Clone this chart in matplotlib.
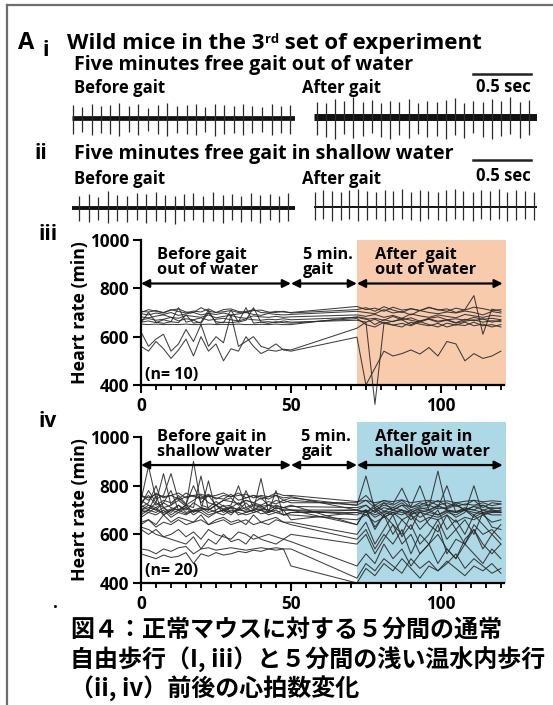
import matplotlib
matplotlib.use("Agg")
import matplotlib.pyplot as plt
from matplotlib.ticker import MultipleLocator

plt.rcParams['font.family'] = ['Open Sans', 'DejaVu Sans']

W, H = 553, 705

# ---------------- example ECG traces (spike times in s, R / S amplitude a.u.) ----------------
ecg_i_before_t = [0.01, 0.084, 0.170, 0.248, 0.328, 0.408, 0.491, 0.572, 0.658, 0.739, 0.822, 0.903,
                  0.989, 1.067, 1.147, 1.227, 1.310, 1.391, 1.471, 1.554, 1.635, 1.722, 1.80, 1.88]
ecg_i_before_up = [13, 11, 14, 12, 13, 15, 12, 14, 10, 13, 15, 12, 13, 14, 11, 14, 13, 12, 14, 12, 11, 14, 12, 13]
ecg_i_before_dn = [16, 14, 17, 15, 16, 18, 14, 17, 13, 16, 18, 15, 16, 17, 14, 18, 16, 15, 17, 15, 14, 17, 15, 16]

ecg_i_after_t = [0.03, 0.103, 0.181, 0.261, 0.339, 0.420, 0.497, 0.575, 0.655, 0.736, 0.819, 0.899,
                 0.977, 1.058, 1.135, 1.216, 1.293, 1.373, 1.454, 1.531, 1.610, 1.690, 1.770, 1.85]
ecg_i_after_up = [15, 14, 18, 16, 20, 15, 17, 14, 16, 15, 18, 14, 16, 15, 17, 19, 14, 16, 15, 18, 16, 20, 15, 17]
ecg_i_after_dn = [18, 20, 22, 17, 21, 19, 16, 20, 22, 18, 21, 17, 20, 19, 22, 18, 21, 16, 20, 22, 19, 17, 21, 18]

ecg_ii_before_t = [0.063, 0.149, 0.227, 0.308, 0.391, 0.472, 0.558, 0.638, 0.724, 0.802, 0.888, 0.966,
                   1.046, 1.132, 1.213, 1.296, 1.377, 1.457, 1.540, 1.621, 1.701, 1.784, 1.862]
ecg_ii_before_up = [12, 14, 11, 17, 13, 12, 15, 14, 16, 13, 12, 14, 15, 12, 16, 13, 14, 12, 15, 13, 14, 12, 15]
ecg_ii_before_dn = [13, 14, 12, 15, 13, 14, 12, 15, 13, 14, 16, 13, 12, 14, 13, 15, 12, 14, 13, 15, 12, 14, 13]

ecg_ii_after_t = [0.009, 0.080, 0.152, 0.230, 0.305, 0.382, 0.460, 0.535, 0.612, 0.684, 0.761, 0.836, 0.914,
                  0.985, 1.066, 1.138, 1.216, 1.287, 1.368, 1.440, 1.517, 1.589, 1.666, 1.741, 1.819, 1.897]
ecg_ii_after_up = [15, 17, 16, 15, 17, 18, 16, 15, 17, 16, 18, 15, 17, 16, 15, 17, 18, 16, 15, 17, 16, 18, 15, 17, 16, 15]
ecg_ii_after_dn = [13, 12, 14, 13, 12, 14, 13, 12, 14, 13, 12, 13, 14, 12, 13, 14, 12, 13, 14, 12, 13, 12, 14, 13, 12, 13]

trace_len = 1.92     # s
scale_bar = 0.5      # s

# ---------------- heart rate (beats/min) ----------------
t_before = [0, 2.5, 5, 7.5, 10, 12.5, 15, 17.5, 20, 22.5, 25, 27.5, 30, 32.5, 35, 37.5, 40, 42.5, 45, 47.5, 50]
t_after = [72, 75, 78, 81, 84, 87, 90, 93, 96, 99, 102, 105, 108, 111, 114, 117, 120]

# iii: out of water (n = 10)
hr3_before = [
    [705, 702, 708, 700, 712, 704, 698, 706, 702, 715, 700, 703, 708, 700, 704, 712, 700, 698, 705, 702, 700],
    [695, 690, 698, 692, 700, 688, 694, 700, 690, 696, 692, 698, 690, 694, 700, 692, 688, 696, 692, 690, 692],
    [682, 678, 685, 690, 680, 676, 688, 684, 680, 690, 678, 684, 688, 680, 676, 686, 682, 680, 684, 680, 682],
    [670, 675, 668, 672, 680, 665, 674, 670, 678, 668, 672, 676, 670, 665, 674, 670, 668, 672, 670, 674, 670],
    [660, 665, 658, 670, 662, 720, 660, 668, 655, 700, 662, 658, 710, 660, 668, 720, 660, 662, 658, 665, 660],
    [652, 650, 652, 650, 651, 650, 652, 650, 650, 652, 650, 651, 650, 652, 650, 650, 651, 650, 652, 650, 650],
    [658, 700, 660, 655, 662, 658, 690, 656, 660, 710, 655, 660, 658, 662, 720, 656, 660, 655, 662, 658, 656],
    [620, 560, 590, 610, 540, 570, 630, 580, 650, 560, 600, 575, 690, 560, 580, 600, 560, 550, 570, 545, 540],
    [560, 540, 580, 550, 510, 545, 590, 520, 600, 540, 570, 500, 550, 540, 600, 560, 530, 545, 540, 548, 545],
    [700, 712, 705, 698, 710, 715, 702, 700, 720, 705, 700, 712, 715, 704, 700, 708, 710, 702, 700, 705, 698],
]
hr3_after = [
    [725, 712, 718, 705, 722, 710, 715, 708, 720, 712, 705, 718, 710, 722, 716, 708, 712],
    [705, 700, 695, 712, 698, 704, 690, 708, 700, 695, 702, 698, 706, 700, 690, 704, 698],
    [690, 684, 692, 680, 688, 676, 694, 686, 680, 690, 684, 678, 692, 686, 680, 688, 684],
    [680, 672, 676, 668, 684, 670, 678, 664, 676, 682, 670, 674, 668, 680, 672, 676, 670],
    [668, 660, 672, 655, 664, 670, 650, 666, 672, 660, 668, 656, 664, 670, 660, 666, 662],
    [682, 676, 650, 670, 662, 676, 668, 660, 674, 664, 670, 658, 672, 666, 674, 660, 668],
    [675, 650, 640, 660, 648, 655, 645, 662, 650, 640, 656, 648, 660, 645, 652, 640, 650],
    [598, 400, 470, 540, 520, 530, 545, 528, 555, 520, 580, 570, 500, 530, 510, 520, 540],
    [635, 660, 320, 655, 648, 640, 660, 652, 645, 655, 640, 650, 646, 660, 645, 650, 640],
    [712, 720, 705, 724, 710, 700, 716, 708, 722, 710, 715, 700, 712, 770, 610, 714, 705],
]

# iv: shallow water (n = 20)
hr4_before = [
    [740, 880, 745, 760, 850, 740, 755, 760, 745, 760, 750, 745, 765, 740, 750, 760, 745, 755, 760, 740, 750],
    [720, 780, 730, 850, 720, 760, 725, 800, 730, 760, 720, 740, 735, 725, 740, 730, 720, 735, 725, 740, 730],
    [710, 730, 800, 710, 720, 740, 715, 900, 720, 710, 735, 715, 720, 800, 710, 725, 715, 720, 715, 710, 715],
    [700, 720, 710, 730, 780, 700, 720, 710, 840, 700, 720, 705, 715, 700, 780, 710, 700, 720, 705, 710, 700],
    [760, 750, 765, 755, 760, 770, 750, 760, 765, 755, 760, 770, 755, 760, 765, 750, 760, 755, 770, 760, 760],
    [690, 700, 760, 680, 700, 690, 710, 680, 700, 820, 690, 700, 680, 710, 690, 700, 830, 690, 700, 680, 690],
    [680, 700, 690, 710, 680, 700, 685, 695, 700, 680, 690, 700, 710, 680, 690, 700, 685, 690, 780, 680, 690],
    [740, 720, 700, 730, 710, 700, 720, 690, 710, 700, 720, 700, 690, 700, 730, 700, 720, 690, 710, 700, 700],
    [670, 690, 680, 700, 670, 690, 680, 700, 690, 670, 690, 680, 700, 690, 680, 690, 700, 680, 690, 680, 680],
    [700, 710, 700, 690, 705, 700, 710, 695, 700, 705, 690, 700, 710, 700, 695, 700, 705, 700, 690, 700, 660],
    [720, 700, 730, 710, 690, 720, 700, 730, 710, 700, 720, 690, 710, 730, 700, 720, 710, 700, 720, 710, 720],
    [650, 660, 640, 680, 650, 670, 660, 650, 680, 640, 660, 670, 650, 660, 640, 680, 650, 660, 670, 650, 650],
    [640, 660, 630, 650, 640, 660, 640, 650, 660, 640, 650, 660, 640, 650, 660, 640, 650, 640, 660, 650, 640],
    [630, 620, 600, 590, 600, 620, 590, 610, 580, 620, 600, 590, 580, 610, 600, 580, 590, 600, 590, 580, 600],
    [620, 600, 620, 590, 580, 570, 560, 590, 540, 580, 560, 600, 570, 580, 560, 600, 580, 570, 560, 580, 570],
    [540, 535, 520, 540, 530, 545, 550, 520, 540, 545, 535, 540, 545, 540, 535, 540, 545, 540, 545, 540, 540],
    [520, 510, 500, 515, 505, 510, 525, 480, 520, 510, 525, 515, 520, 530, 525, 535, 530, 540, 535, 540, 470],
    [760, 740, 770, 750, 760, 745, 770, 755, 750, 765, 745, 760, 755, 770, 750, 760, 755, 745, 760, 750, 755],
    [700, 690, 710, 680, 700, 720, 690, 700, 710, 690, 700, 720, 690, 700, 710, 690, 700, 690, 710, 700, 700],
    [730, 760, 720, 740, 730, 750, 720, 740, 760, 730, 720, 740, 750, 720, 740, 730, 750, 720, 740, 730, 740],
]
hr4_after = [
    [720, 840, 700, 720, 710, 730, 700, 715, 720, 705, 710, 725, 700, 715, 720, 705, 710],
    [730, 760, 720, 740, 725, 790, 710, 720, 735, 720, 730, 715, 725, 720, 730, 718, 725],
    [710, 720, 690, 730, 700, 720, 715, 800, 700, 715, 705, 720, 700, 715, 700, 710, 705],
    [700, 690, 720, 695, 710, 700, 690, 705, 710, 860, 700, 695, 705, 700, 690, 700, 695],
    [735, 740, 730, 738, 735, 742, 730, 736, 740, 734, 738, 730, 736, 740, 734, 738, 735],
    [700, 690, 710, 680, 700, 690, 680, 700, 690, 710, 800, 690, 700, 680, 700, 690, 700],
    [690, 680, 700, 670, 690, 680, 700, 670, 690, 680, 700, 670, 690, 800, 680, 690, 690],
    [680, 700, 670, 690, 680, 700, 660, 690, 680, 670, 690, 680, 700, 670, 690, 680, 680],
    [660, 680, 650, 670, 690, 660, 680, 650, 670, 660, 680, 650, 670, 660, 680, 650, 660],
    [690, 700, 680, 695, 690, 700, 685, 690, 700, 680, 695, 690, 700, 690, 685, 695, 690],
    [640, 700, 630, 680, 600, 660, 620, 700, 640, 610, 680, 620, 660, 600, 690, 630, 620],
    [600, 650, 560, 620, 680, 590, 640, 560, 600, 660, 580, 620, 560, 640, 600, 620, 580],
    [580, 620, 540, 600, 560, 620, 520, 600, 560, 640, 520, 580, 560, 620, 540, 600, 560],
    [560, 600, 520, 580, 640, 560, 600, 520, 560, 600, 540, 500, 580, 620, 560, 520, 560],
    [470, 520, 480, 560, 500, 540, 470, 520, 560, 480, 540, 500, 560, 520, 480, 540, 500],
    [420, 480, 450, 500, 470, 440, 500, 460, 490, 450, 480, 520, 460, 500, 470, 440, 460],
    [400, 460, 430, 480, 450, 500, 460, 420, 470, 450, 490, 460, 430, 470, 450, 480, 440],
    [700, 720, 690, 710, 700, 720, 690, 710, 700, 720, 700, 690, 710, 700, 720, 700, 690],
    [640, 700, 620, 680, 640, 600, 680, 620, 660, 700, 620, 660, 600, 680, 640, 600, 640],
    [720, 740, 710, 730, 720, 740, 710, 730, 720, 740, 715, 730, 720, 740, 710, 730, 725],
]

phase_edges = [0, 50, 72, 120.6]


def rect(l, t, r, b):
    return [l / W, 1 - b / H, (r - l) / W, (b - t) / H]


fig = plt.figure(figsize=(W / 100, H / 100), dpi=100)
fig.patch.set_facecolor('white')

# invisible overlay in pixel units for all loose text
ov = fig.add_axes([0, 0, 1, 1])
ov.set_xlim(0, W)
ov.set_ylim(H, 0)
ov.axis('off')


def txt(x, y, s, **kw):
    kw.setdefault('fontweight', 'bold')
    return ov.text(x, y, s, **kw)


# frame lines of the original slide
ov.plot([7, W], [5, 5], color='#6e6e6e', lw=1.6, clip_on=False)
ov.plot([7, 7], [5, H], color='#6e6e6e', lw=1.6, clip_on=False)

# ---------------- headings ----------------
txt(18, 43, 'A', fontsize=17, va='center')
txt(42, 51, 'i', fontsize=15.5, va='center')
t1 = txt(67, 49, 'Wild mice in the 3', fontsize=16, va='baseline')
sup = ov.annotate('rd', xy=(1, 1), xycoords=t1, va='top', ha='left', fontsize=9.5, fontweight='bold',
                  annotation_clip=False)
ov.annotate(' set of experiment', xy=(1, 0), xycoords=(sup, t1), va='bottom', ha='left',
            fontsize=16, fontweight='bold', annotation_clip=False)
txt(74, 70, 'Five minutes free gait out of water', fontsize=14.1, va='baseline')
txt(74, 93, 'Before gait', fontsize=12, va='baseline')
txt(302, 93, 'After gait', fontsize=12, va='baseline')
txt(503, 92, '0.5 sec', fontsize=12, va='baseline', ha='center')

txt(35, 159, 'ii', fontsize=15, va='baseline')
txt(74, 159, 'Five minutes free gait in shallow water', fontsize=14.1, va='baseline')
txt(74, 184, 'Before gait', fontsize=12, va='baseline')
txt(302, 184, 'After gait', fontsize=12, va='baseline')
txt(503, 181, '0.5 sec', fontsize=12, va='baseline', ha='center')

txt(38, 240, 'iii', fontsize=15, va='baseline')
txt(38, 427, 'iv', fontsize=15, va='baseline')


# ---------------- ECG traces ----------------
def ecg(left, base, times, up, dn, base_lw, bar_y=None):
    ax = fig.add_axes(rect(left, base - 25, left + 223, base + 25))
    ax.set_xlim(0, trace_len)
    ax.set_ylim(-25, 25)
    ax.axis('off')
    ax.plot([0, trace_len], [0, 0], color='#111111', lw=base_lw, solid_capstyle='butt')
    ax.vlines(times, [-d for d in dn], up, color='#2a2a2a', lw=0.9)
    if bar_y is not None:
        ax.plot([trace_len - 0.05 - scale_bar, trace_len - 0.05], [bar_y, bar_y],
                color='#222222', lw=1.8, clip_on=False)
    return ax


ecg(72, 118, ecg_i_before_t, ecg_i_before_up, ecg_i_before_dn, 3.4)
ecg(314, 117, ecg_i_after_t, ecg_i_after_up, ecg_i_after_dn, 5.0, bar_y=43)
ecg(72, 208, ecg_ii_before_t, ecg_ii_before_up, ecg_ii_before_dn, 2.8)
ecg(314, 207, ecg_ii_after_t, ecg_ii_after_up, ecg_ii_after_dn, 1.4, bar_y=47)


# ---------------- heart-rate panels ----------------
def hr_panel(top, bottom, ytop, before, after, shade, labels, arrow_y, n_text, n_y):
    ax = fig.add_axes(rect(141, top, 506, bottom))
    ax.set_xlim(0, 121.7)
    ax.set_ylim(400, ytop)
    ax.axvspan(72, 121.7, color=shade, lw=0, zorder=0)
    for b, a in zip(before, after):
        ax.plot(t_before + t_after, b + a, color='#2a2a2a', lw=0.75, alpha=0.9, zorder=2,
                clip_on=False)
    for x0, x1 in zip(phase_edges[:-1], phase_edges[1:]):
        ax.annotate('', xy=(x1, arrow_y), xytext=(x0, arrow_y),
                    arrowprops=dict(arrowstyle='<|-|>', color='black', lw=1.6,
                                    mutation_scale=12, shrinkA=0, shrinkB=0), zorder=3)
    for x, y, s in labels:
        ax.text(x, y, s, fontsize=11.8, fontweight='bold', ha='left', va='bottom', linespacing=0.88)
    ax.text(1.5, n_y, n_text, fontsize=11.5, fontweight='bold', ha='left', va='center')
    for side in ('top', 'right'):
        ax.spines[side].set_visible(False)
    for side in ('left', 'bottom'):
        ax.spines[side].set_linewidth(1.6)
    ax.spines['left'].set_bounds(400, 1000)
    ax.spines['bottom'].set_bounds(0, 121)
    ax.set_xticks([0, 50, 100])
    ax.xaxis.set_minor_locator(MultipleLocator(5))
    ax.set_yticks([400, 600, 800, 1000])
    ax.tick_params(which='major', length=6, width=1.5, labelsize=12.3, pad=2.5)
    ax.tick_params(which='minor', length=3.5, width=1.3)
    for lab in ax.get_xticklabels() + ax.get_yticklabels():
        lab.set_fontweight('bold')
    ax.set_ylabel('Heart rate (min)', fontsize=12.8, fontweight='bold')
    ax.yaxis.set_label_coords(-0.142, (1000 - 400) / (ytop - 400) / 2)
    ax.patch.set_alpha(0)
    return ax


hr_panel(240, 385, 1000, hr3_before, hr3_after, '#F8CBAD',
         [(5.5, 843, 'Before gait\nout of water'), (54, 843, '5 min.\ngait'),
          (78, 843, 'After  gait\nout of water')],
         820, '(n= 10)', 440)

hr_panel(422, 583, 1062, hr4_before, hr4_after, '#ADD8E6',
         [(5.5, 906, 'Before gait in\nshallow water'), (53.5, 906, '5 min.\ngait'),
          (78, 906, 'After gait in\nshallow water')],
         885, '(n= 20)', 448)

# ---------------- Japanese caption ----------------
jp = ['Noto Sans CJK JP', 'DejaVu Sans']
txt(53, 603, '.', fontsize=12, va='center')
txt(70, 630, '図４：正常マウスに対する５分間の通常', fontsize=17.3, va='center', family=jp)
txt(70, 660, '自由歩行（I, iii）と５分間の浅い温水内歩行', fontsize=17.3, va='center', family=jp)
txt(70, 689, '（ii, iv）前後の心拍数変化', fontsize=17.3, va='center', family=jp)

fig.savefig('out.png', dpi=100)
